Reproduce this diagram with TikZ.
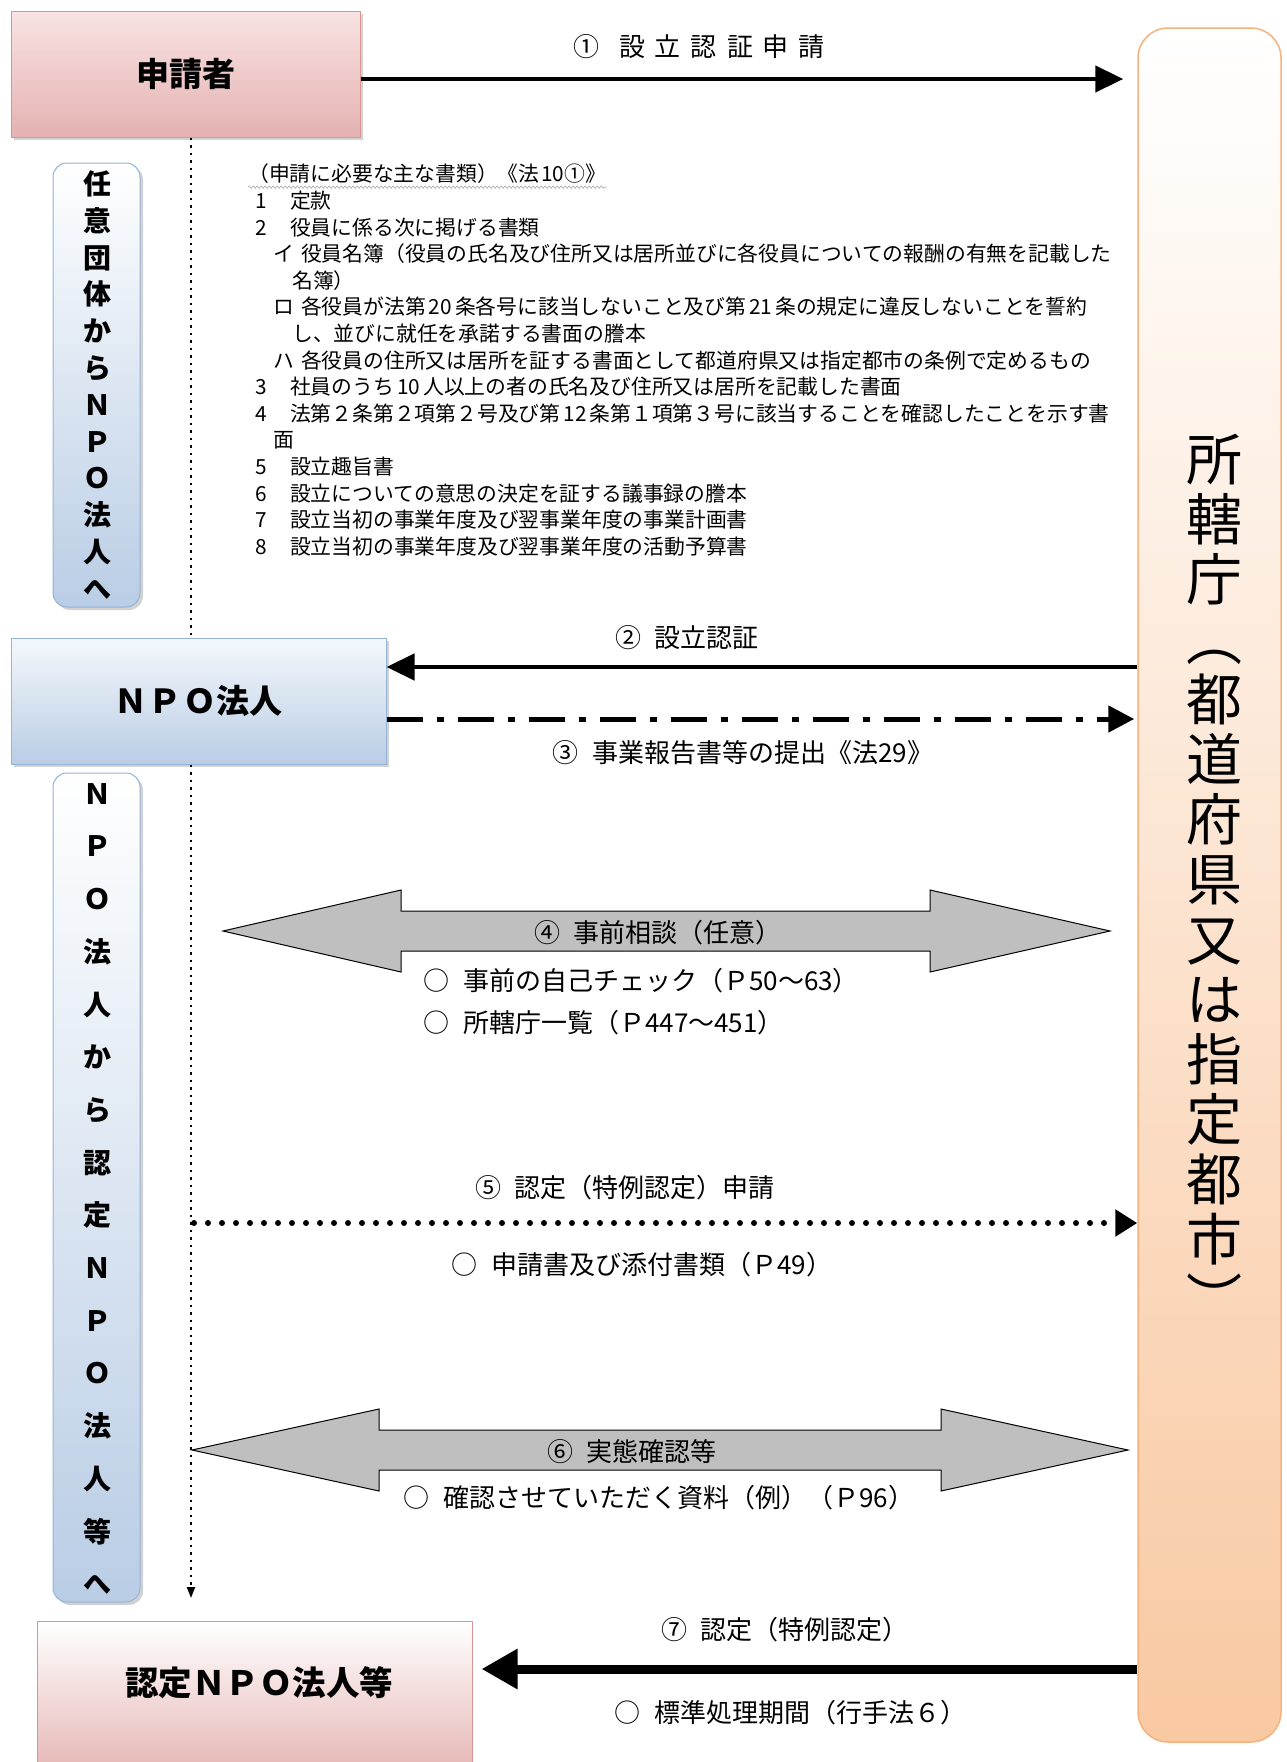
\documentclass[tikz,border=0pt]{standalone}
\usepackage{fontspec}
\setmainfont{Noto Sans CJK JP}
\usetikzlibrary{arrows.meta,shadows,decorations.pathmorphing}
\definecolor{pinkTop}{HTML}{F9E3E3}
\definecolor{pinkBot}{HTML}{E4B2B1}
\definecolor{pinkLine}{HTML}{D99594}
\definecolor{blueTop}{HTML}{F4F8FC}
\definecolor{blueBot}{HTML}{B9CDE5}
\definecolor{blueLine}{HTML}{95B3D7}
\definecolor{peachLine}{HTML}{F5B27E}
\definecolor{peachMid}{HTML}{FCE6D4}
\definecolor{peachBot}{HTML}{F9C9A2}
\definecolor{arrowGrey}{HTML}{BFBFBF}
\begin{document}
\begin{tikzpicture}[x=1pt,y=-1pt,
  shadowed/.style={drop shadow={opacity=0.35,shadow xshift=3pt,shadow yshift=-3pt}},
  pinkbox/.style={draw=pinkLine,line width=1pt,top color=pinkTop,bottom color=pinkBot,shadowed,
    font=\fontsize{33pt}{36pt}\selectfont\bfseries},
  bluebox/.style={draw=blueLine,line width=1pt,top color=blueTop,bottom color=blueBot,shadowed,
    font=\fontsize{33pt}{36pt}\selectfont\bfseries},
  vbox/.style={draw=blueLine,line width=1pt,rounded corners=14pt,top color=white,bottom color=blueBot,shadowed},
  govbox/.style={draw=peachLine,line width=1.5pt,rounded corners=30pt,top color=white,middle color=peachMid,bottom color=peachBot},
  doc/.style={anchor=west,inner sep=0pt,font=\fontsize{20.8pt}{24pt}\selectfont},
  lbl/.style={inner sep=0pt,font=\fontsize{26pt}{28pt}\selectfont},
  item/.style={anchor=west,inner sep=0pt,font=\fontsize{26pt}{28pt}\selectfont},
  bigarrow/.style={draw=black,line width=1pt,fill=arrowGrey},
  solidarrow/.style={line width=4.5pt,-{Triangle[length=28pt,width=26pt]}},
]
\useasboundingbox[fill=white] (0,0) rectangle (1287,1762);

% ---- boxes ----
\node[govbox,minimum width=143pt,minimum height=1714pt] (gov) at (1209.5,885) {};
\node[inner sep=0pt,align=center,font=\fontsize{56pt}{60pt}\selectfont] (govtext) at (1214,877)
  {所\\轄\\庁\\︵\\都\\道\\府\\県\\又\\は\\指\\定\\都\\市\\︶};

\node[pinkbox,minimum width=349pt,minimum height=126pt] (appl) at (185.5,74) {申請者};
\node[bluebox,minimum width=375pt,minimum height=126pt] (npo) at (198.5,701) {Ｎ\kern2ptＰ\kern2ptＯ法人};
\node[draw=pinkLine,line width=1pt,top color=white,bottom color=pinkBot,minimum width=435pt,minimum height=160pt] (nintei) at (254.5,1701) {};
\node[inner sep=0pt,font=\fontsize{33.5pt}{36pt}\selectfont\bfseries] (ninteitext) at (259,1683) {認定ＮＰＯ法人等};

\node[vbox,minimum width=87pt,minimum height=444pt] (vb1) at (96.5,385) {};
\node[inner sep=0pt,align=center,font=\fontsize{28pt}{36.8pt}\selectfont\bfseries] (vb1t) at (97,385)
  {任\\意\\団\\体\\か\\ら\\Ｎ\\Ｐ\\Ｏ\\法\\人\\へ};
\node[vbox,minimum width=87pt,minimum height=829pt] (vb2) at (96.5,1187.5) {};
\node[inner sep=0pt,align=center,font=\fontsize{28pt}{52.7pt}\selectfont\bfseries] (vb2t) at (97,1189)
  {Ｎ\\Ｐ\\Ｏ\\法\\人\\か\\ら\\認\\定\\Ｎ\\Ｐ\\Ｏ\\法\\人\\等\\へ};

% ---- helper coordinates ----
\coordinate (dl) at (191,0);
\coordinate (dend) at (191,1598);
\coordinate (y1) at (0,79);
\coordinate (y2) at (0,667);
\coordinate (y3) at (0,719);
\coordinate (y5) at (0,1223);
\coordinate (y7) at (0,1669);
\coordinate (s5) at (194,1223);

% ---- dotted vertical line ----
\draw[line width=2.5pt,dash pattern=on 2.5pt off 5pt] (dl |- appl.south) -- (dl |- npo.north);
\draw[line width=2pt,dash pattern=on 2.5pt off 5pt,-{Triangle[length=11pt,width=8pt]}] (dl |- npo.south) -- (dend);

% ---- arrows ----
\draw[solidarrow] (appl.east |- y1) -- ([xshift=-14pt]gov.west |- y1);
\node[lbl] (l1) at (699,47) {①\hspace{20pt}設\hspace{10pt}立\hspace{10pt}認\hspace{10pt}証\hspace{10pt}申\hspace{10pt}請};

\draw[solidarrow] (gov.west |- y2) -- (npo.east |- y2);
\node[lbl] (l2) at (687,638) {②\hspace{14pt}設立認証};

\draw[line width=5pt,dash pattern=on 36pt off 14pt on 7pt off 14pt,-{Triangle[length=26pt,width=26pt]}]
  (npo.east |- y3) -- ([xshift=-3pt]gov.west |- y3);
\node[lbl] (l3) at (743,753) {③\hspace{14pt}事業報告書等の提出《法29》};

% ---- text block ----
\node[doc] (t1) at (248,174) {（申請に必要な主な書類）《法\kern2pt10①》};
\draw[gray!55,line width=0.8pt,decorate,decoration={snake,amplitude=1.2pt,segment length=4pt}]
  ([yshift=-3pt]t1.south west) -- ([yshift=-3pt]t1.south east);
\node[doc] (t2) at (255,200.6) {\makebox[35pt][l]{1}定款};
\node[doc] (t3) at (255,227.2) {\makebox[35pt][l]{2}役員に係る次に掲げる書類};
\node[doc] (t4) at (273,253.8) {\makebox[28pt][l]{イ}役員名簿（役員の氏名及び住所又は居所並びに各役員についての報酬の有無を記載した};
\node[doc] (t5) at (292,280.4) {名簿）};
\node[doc] (t6) at (273,307) {\makebox[28pt][l]{ロ}各役員が法第\kern3pt20\kern3pt条各号に該当しないこと及び第\kern3pt21\kern3pt条の規定に違反しないことを誓約};
\node[doc] (t7) at (292,333.6) {し、並びに就任を承諾する書面の謄本};
\node[doc] (t8) at (273,360.2) {\makebox[28pt][l]{ハ}各役員の住所又は居所を証する書面として都道府県又は指定都市の条例で定めるもの};
\node[doc] (t9) at (255,386.8) {\makebox[35pt][l]{3}社員のうち\kern3pt10\kern3pt人以上の者の氏名及び住所又は居所を記載した書面};
\node[doc] (t10) at (255,413.4) {\makebox[35pt][l]{4}法第２条第２項第２号及び第\kern3pt12\kern3pt条第１項第３号に該当することを確認したことを示す書};
\node[doc] (t11) at (273,440) {面};
\node[doc] (t12) at (255,466.6) {\makebox[35pt][l]{5}設立趣旨書};
\node[doc] (t13) at (255,493.2) {\makebox[35pt][l]{6}設立についての意思の決定を証する議事録の謄本};
\node[doc] (t14) at (255,519.8) {\makebox[35pt][l]{7}設立当初の事業年度及び翌事業年度の事業計画書};
\node[doc] (t15) at (255,546.4) {\makebox[35pt][l]{8}設立当初の事業年度及び翌事業年度の活動予算書};

% ---- (4) double arrow ----
\draw[bigarrow] (223,931) -- (401,890) -- (401,911) -- (930,911) -- (930,890) -- (1110,931)
  -- (930,972) -- (930,951) -- (401,951) -- (401,972) -- cycle;
\node[lbl] (l4) at (658,933) {④\hspace{14pt}事前相談（任意）};
\node[item] (i4a) at (423,981) {○\hspace{14pt}事前の自己チェック（Ｐ50～63）};
\node[item] (i4b) at (423,1023) {○\hspace{14pt}所轄庁一覧（Ｐ447～451）};

% ---- (5) dotted arrow ----
\draw[line width=6pt,line cap=round,dash pattern=on 0pt off 14pt,-{Triangle[length=22pt,width=26pt]}]
  (s5) -- (gov.west |- y5);
\node[lbl] (l5) at (625,1188) {⑤\hspace{14pt}認定（特例認定）申請};
\node[item] (i5) at (451,1265) {○\hspace{14pt}申請書及び添付書類（Ｐ49）};

% ---- (6) double arrow ----
\draw[bigarrow] (192,1450) -- (379,1409) -- (379,1430) -- (941,1430) -- (941,1409) -- (1128,1450)
  -- (941,1491) -- (941,1470) -- (379,1470) -- (379,1491) -- cycle;
\node[lbl] (l6) at (632,1452) {⑥\hspace{14pt}実態確認等};
\node[item] (i6) at (403,1498) {○\hspace{14pt}確認させていただく資料（例）（Ｐ96）};

% ---- (7) arrow ----
\draw[line width=9pt,-{Triangle[length=36pt,width=38pt]}] (gov.west |- y7) -- ([xshift=9pt]nintei.east |- y7);
\node[lbl] (l7) at (785,1630) {⑦\hspace{14pt}認定（特例認定）};
\node[item] (i7) at (614,1713) {○\hspace{14pt}標準処理期間（行手法６）};
\end{tikzpicture}
\end{document}
